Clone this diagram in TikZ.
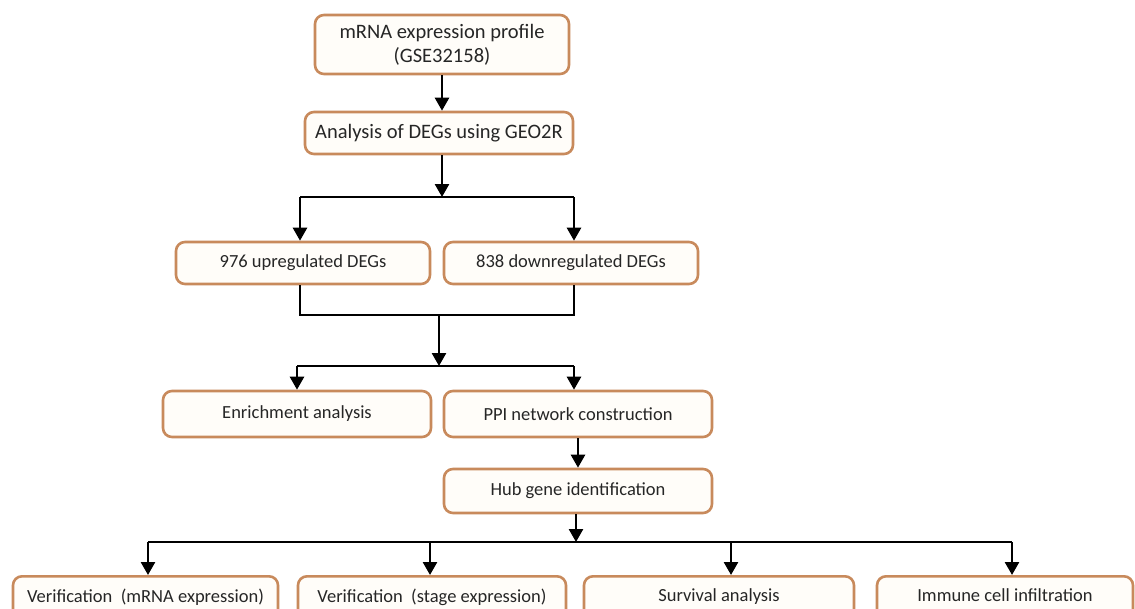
\documentclass[tikz,border=0pt]{standalone}
\usepackage{fontspec}
\setmainfont{Carlito}
\usetikzlibrary{arrows.meta}
\definecolor{boxline}{RGB}{200,138,92}
\definecolor{boxfill}{RGB}{255,253,249}
\tikzset{
  stepbox/.style={draw=boxline, fill=boxfill, line width=2.6pt, rounded corners=9pt,
    inner sep=0pt, align=center, font=\fontsize{18.5}{23}\selectfont, text=black!85},
  topbox/.style={stepbox, font=\fontsize{20.5}{24}\selectfont},
  conn/.style={draw=black, line width=2.6pt},
  arr/.style={conn, -{Triangle[width=14pt,length=13pt]}}
}
\begin{document}
\begin{tikzpicture}[x=1pt,y=-1pt]
\path[use as bounding box] (0,0) rectangle (1135,608);
\clip (0,0) rectangle (1135,608);
\fill[white] (0,0) rectangle (1135,608);

\node[topbox, minimum width=254pt, minimum height=59pt] (mrna) at (442,44.5) {mRNA expression profile\\(GSE32158)};
\node[topbox, minimum width=268pt, minimum height=42pt] (geo) at (439,133) {Analysis of DEGs using GEO2R};
\node[stepbox, minimum width=254pt, minimum height=42pt] (up) at (303,263) {976 upregulated DEGs};
\node[stepbox, minimum width=254pt, minimum height=42pt] (down) at (571,263) {838 downregulated DEGs};
\node[stepbox, minimum width=268pt, minimum height=46pt] (enr) at (297,414) {Enrichment analysis};
\node[stepbox, minimum width=268pt, minimum height=46pt] (ppi) at (578,414) {PPI network construction};
\node[stepbox, minimum width=268pt, minimum height=44pt] (hub) at (578,491) {Hub gene identification};
\node[stepbox, minimum width=265pt, minimum height=56pt, anchor=north] (v1) at (145.5,575) {\raisebox{18pt}{Verification\ \ (mRNA expression)}};
\node[stepbox, minimum width=268pt, minimum height=56pt, anchor=north] (v2) at (432,575) {\raisebox{18pt}{Verification\ \ (stage expression)}};
\node[stepbox, minimum width=270pt, minimum height=56pt, anchor=north] (v3) at (719,575) {\raisebox{18pt}{Survival analysis}};
\node[stepbox, minimum width=256pt, minimum height=56pt, anchor=north] (v4) at (1005,575) {\raisebox{18pt}{Immune cell infiltration}};

% junctions
\coordinate (j1) at (442,197);
\coordinate (j1l) at (300,197);
\coordinate (j1r) at (574,197);
\coordinate (m1) at (300,315);
\coordinate (m2) at (574,315);
\coordinate (mc) at (439,315);
\coordinate (j2) at (439,366);
\coordinate (j2l) at (297,366);
\coordinate (j2r) at (574,366);
\coordinate (j3) at (576,542);
\coordinate (j3a) at (148,542);
\coordinate (j3b) at (430,542);
\coordinate (j3c) at (731,542);
\coordinate (j3d) at (1012,542);

\draw[arr] (mrna.south) -- (mrna.south |- geo.north);
\draw[arr] (geo.south -| j1) -- (j1);
\draw[conn] (j1l) -- (j1r);
\draw[arr] (j1l) -- (j1l |- up.north);
\draw[arr] (j1r) -- (j1r |- down.north);
\draw[conn] (up.south -| m1) -- (m1) -- (m2) -- (down.south -| m2);
\draw[arr] (mc) -- (j2);
\draw[conn] (j2l) -- (j2r);
\draw[arr] (j2l) -- (j2l |- enr.north);
\draw[arr] (j2r) -- (j2r |- ppi.north);
\draw[arr] (ppi.south -| hub.north) -- (hub.north);
\draw[arr] (hub.south -| j3) -- (j3);
\draw[conn] (j3a) -- (j3d);
\draw[arr] (j3a) -- (j3a |- v1.north);
\draw[arr] (j3b) -- (j3b |- v2.north);
\draw[arr] (j3c) -- (j3c |- v3.north);
\draw[arr] (j3d) -- (j3d |- v4.north);
\end{tikzpicture}
\end{document}
